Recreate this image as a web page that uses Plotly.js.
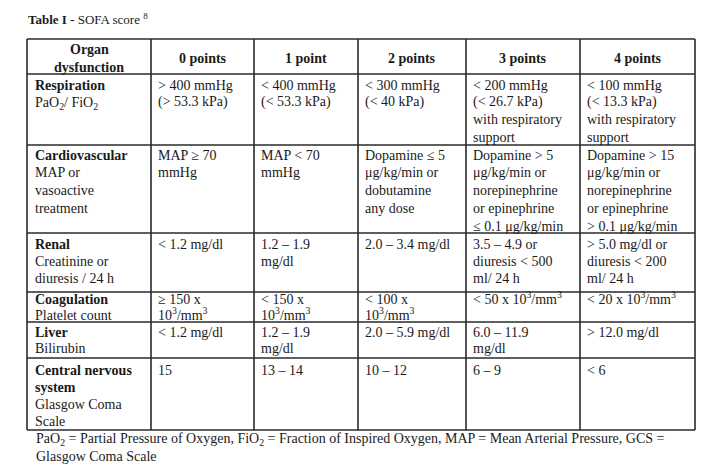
<!DOCTYPE html>
<html>
<head>
<meta charset="utf-8">
<script src="https://cdn.plot.ly/plotly-3.0.1.min.js"></script>
<style>html,body{margin:0;padding:0;background:#fff;}#chart{width:724px;height:476px;}</style>
</head>
<body>
<div id="chart"></div>
<script>
// ---- table content ----
const headers = ['Organ<br>dysfunction', '0 points', '1 point', '2 points', '3 points', '4 points'];
const organs = [
  '<b>Respiration</b><br>PaO<sub>2</sub>/ FiO<sub>2</sub>',
  '<b>Cardiovascular</b><br>MAP or<br>vasoactive<br>treatment',
  '<b>Renal</b><br>Creatinine or<br>diuresis / 24 h',
  '<b>Coagulation</b><br>Platelet count',
  '<b>Liver</b><br>Bilirubin',
  '<b>Central nervous</b><br><b>system</b><br>Glasgow Coma<br>Scale'
];
const points0 = [
  '> 400 mmHg<br>(> 53.3 kPa)',
  'MAP ≥ 70<br>mmHg',
  '< 1.2 mg/dl',
  '≥ 150 x<br>10<sup>3</sup>/mm<sup>3</sup>',
  '< 1.2 mg/dl',
  '15'
];
const points1 = [
  '< 400 mmHg<br>(< 53.3 kPa)',
  'MAP < 70<br>mmHg',
  '1.2 – 1.9<br>mg/dl',
  '< 150 x<br>10<sup>3</sup>/mm<sup>3</sup>',
  '1.2 – 1.9<br>mg/dl',
  '13 – 14'
];
const points2 = [
  '< 300 mmHg<br>(< 40 kPa)',
  'Dopamine ≤ 5<br>μg/kg/min or<br>dobutamine<br>any dose',
  '2.0 – 3.4 mg/dl',
  '< 100 x<br>10<sup>3</sup>/mm<sup>3</sup>',
  '2.0 – 5.9 mg/dl',
  '10 – 12'
];
const points3 = [
  '< 200 mmHg<br>(< 26.7 kPa)<br>with respiratory<br>support',
  'Dopamine > 5<br>μg/kg/min or<br>norepinephrine<br>or epinephrine<br>≤ 0.1 μg/kg/min',
  '3.5 – 4.9 or<br>diuresis < 500<br>ml/ 24 h',
  '< 50 x 10<sup>3</sup>/mm<sup>3</sup>',
  '6.0 – 11.9<br>mg/dl',
  '6 – 9'
];
const points4 = [
  '< 100 mmHg<br>(< 13.3 kPa)<br>with respiratory<br>support',
  'Dopamine > 15<br>μg/kg/min or<br>norepinephrine<br>or epinephrine<br>> 0.1 μg/kg/min',
  '> 5.0 mg/dl or<br>diuresis < 200<br>ml/ 24 h',
  '< 20 x 10<sup>3</sup>/mm<sup>3</sup>',
  '> 12.0 mg/dl',
  '< 6'
];
const titleText = '<b>Table I - </b>SOFA score <sup>8</sup>';
const footnoteLines = [
  'PaO<sub>2</sub> = Partial Pressure of Oxygen, FiO<sub>2</sub> = Fraction of Inspired Oxygen, MAP = Mean Arterial Pressure, GCS =',
  'Glasgow Coma Scale'
];

// ---- layout geometry (pixels) ----
const tableLeft = 27, tableTop = 39;
const colWidths = [124, 103, 104, 108, 114, 115];
const headerHeight = 35;
const rowHeights = [71, 88, 59, 30, 36, 72];
const rowFirstLine = [11, 10, 11, 7, 10, 12];     // first text line centre below row top
const rowLineStep = [17.4, 17.9, 17.3, 16.3, 16.8, 17.2];
const FONT = 'Liberation Serif, Times New Roman, serif';
const LINE = '#2a2a2a';
const INK = '#1a1a1a';

const colEdges = [tableLeft];
colWidths.forEach(w => colEdges.push(colEdges[colEdges.length - 1] + w));
const rowEdges = [tableTop, tableTop + headerHeight];
rowHeights.forEach(h => rowEdges.push(rowEdges[rowEdges.length - 1] + h));
const tableRight = colEdges[colEdges.length - 1];
const tableBottom = rowEdges[rowEdges.length - 1];

const shapes = [];
colEdges.forEach(x => shapes.push({type: 'line', xref: 'x', yref: 'y', x0: x, x1: x, y0: tableTop, y1: tableBottom, line: {color: LINE, width: 1.6}}));
rowEdges.forEach(y => shapes.push({type: 'line', xref: 'x', yref: 'y', x0: tableLeft, x1: tableRight, y0: y, y1: y, line: {color: LINE, width: 1.6}}));

const annotations = [];
const txtFont = {family: FONT, size: 14, color: INK};
function lineShift(t) {
  let d = 0;
  if (t.indexOf('<sub>') >= 0) d += 1.5;
  if (t.indexOf('<sup>') >= 0) d -= 1.5;
  return d;
}
// header
headers.forEach((h, i) => {
  const lines = h.split('<br>');
  const cy = (rowEdges[0] + rowEdges[1]) / 2 + 2;
  lines.forEach((ln, k) => {
    annotations.push({
      xref: 'x', yref: 'y', x: (colEdges[i] + colEdges[i + 1]) / 2,
      y: cy + (k - (lines.length - 1) / 2) * 17.5,
      text: '<b>' + ln + '</b>', showarrow: false, xanchor: 'center', yanchor: 'middle',
      align: 'center', font: txtFont, borderpad: 0
    });
  });
});
// body
const cols = [organs, points0, points1, points2, points3, points4];
cols.forEach((col, c) => {
  col.forEach((t, r) => {
    t.split('<br>').forEach((ln, k) => {
      annotations.push({
        xref: 'x', yref: 'y', x: colEdges[c] + (c === 0 ? 7 : 6),
        y: rowEdges[r + 1] + rowFirstLine[r] + k * rowLineStep[r] + lineShift(ln),
        text: ln, showarrow: false, xanchor: 'left', yanchor: 'middle', align: 'left',
        font: txtFont, borderpad: 0
      });
    });
  });
});
// title
annotations.push({xref: 'x', yref: 'y', x: tableLeft, y: 19, text: titleText, showarrow: false,
  xanchor: 'left', yanchor: 'middle', align: 'left', font: {family: FONT, size: 13, color: INK}, borderpad: 0});
// footnote
footnoteLines.forEach((t, i) => {
  annotations.push({xref: 'x', yref: 'y', x: 35, y: 438 + i * 18 + lineShift(t), text: t, showarrow: false,
    xanchor: 'left', yanchor: 'middle', align: 'left', font: {family: FONT, size: 14, color: INK}, borderpad: 0});
});

const layout = {
  width: 724, height: 476,
  margin: {l: 0, r: 0, t: 0, b: 0},
  paper_bgcolor: '#ffffff', plot_bgcolor: '#ffffff',
  xaxis: {range: [0, 724], visible: false, fixedrange: true},
  yaxis: {range: [476, 0], visible: false, fixedrange: true},
  showlegend: false,
  shapes: shapes,
  annotations: annotations
};
Plotly.newPlot('chart', [], layout, {displayModeBar: false, staticPlot: true});
</script>
</body>
</html>
